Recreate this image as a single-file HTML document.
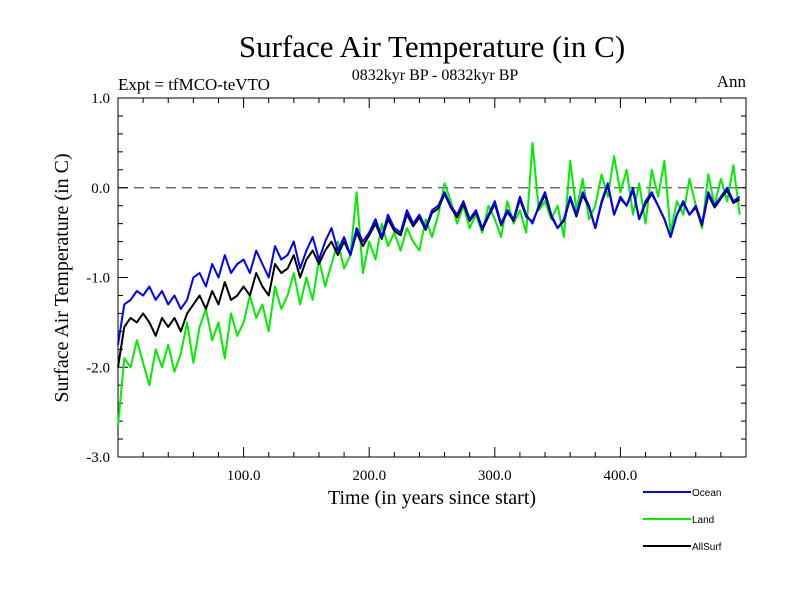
<!DOCTYPE html>
<html><head><meta charset="utf-8"><style>
html,body{margin:0;padding:0;background:#fff;}
svg{display:block;}
</style></head><body>
<svg id="chart" width="800" height="600" xmlns="http://www.w3.org/2000/svg" font-family="Liberation Serif, serif">
<rect width="800" height="600" fill="#fff"/>
<text x="432" y="57" font-size="31" text-anchor="middle">Surface Air Temperature (in C)</text>
<text x="435" y="80" font-size="16" text-anchor="middle">0832kyr BP - 0832kyr BP</text>
<text x="118" y="90" font-size="17">Expt = tfMCO-teVTO</text>
<text x="746" y="87" font-size="17" text-anchor="end">Ann</text>
<text transform="translate(68,278) rotate(-90)" font-size="20" text-anchor="middle">Surface Air Temperature (in C)</text>
<text x="432" y="504" font-size="20" text-anchor="middle">Time (in years since start)</text>
<g id="axes"></g>
<g id="series"></g>
<g id="legend" font-family="Liberation Sans, sans-serif" font-size="10"></g>
</svg>
<script>
const years = [];
for (let i = 0; i < 100; i++) years.push(i * 5);
const oceanValues = [-1.75,-1.3,-1.25,-1.15,-1.2,-1.1,-1.25,-1.15,-1.3,-1.2,-1.35,-1.25,-1.0,-0.95,-1.1,-0.85,-1.0,-0.75,-0.95,-0.85,
-0.8,-0.95,-0.7,-0.85,-1.0,-0.65,-0.8,-0.75,-0.6,-0.9,-0.7,-0.55,-0.8,-0.6,-0.45,-0.7,-0.55,-0.75,-0.45,-0.6,
-0.5,-0.35,-0.55,-0.3,-0.45,-0.5,-0.25,-0.4,-0.3,-0.45,-0.25,-0.2,-0.05,-0.2,-0.3,-0.15,-0.35,-0.25,-0.45,-0.3,
-0.15,-0.4,-0.25,-0.35,-0.1,-0.3,-0.4,-0.2,-0.05,-0.3,-0.45,-0.35,-0.1,-0.3,-0.05,-0.2,-0.45,-0.15,0.05,-0.3,
-0.1,-0.2,0.0,-0.35,-0.15,-0.05,-0.2,-0.35,-0.55,-0.3,-0.15,-0.3,-0.2,-0.4,-0.05,-0.2,-0.1,0.0,-0.15,-0.1];
const landValues = [-2.65,-1.9,-2.0,-1.7,-1.95,-2.2,-1.8,-2.0,-1.75,-2.05,-1.85,-1.5,-1.95,-1.55,-1.35,-1.7,-1.5,-1.9,-1.4,-1.65,
-1.5,-1.2,-1.45,-1.3,-1.6,-1.1,-1.35,-1.2,-0.95,-1.3,-1.0,-1.25,-0.8,-1.1,-0.85,-0.6,-0.9,-0.75,-0.05,-0.95,
-0.6,-0.8,-0.4,-0.65,-0.5,-0.7,-0.45,-0.6,-0.7,-0.35,-0.55,-0.3,0.05,-0.15,-0.4,-0.2,-0.45,-0.3,-0.5,-0.2,
-0.35,-0.55,-0.15,-0.4,-0.25,-0.5,0.5,-0.25,-0.15,-0.35,-0.2,-0.55,0.3,-0.25,0.1,-0.35,-0.2,0.15,-0.1,0.35,
-0.05,0.2,-0.3,0.05,-0.4,0.2,-0.1,0.3,-0.5,-0.15,-0.3,0.1,-0.2,-0.45,0.15,-0.2,0.1,-0.15,0.25,-0.3];
const allSurfValues = [-2.0,-1.55,-1.45,-1.5,-1.4,-1.5,-1.65,-1.45,-1.55,-1.45,-1.6,-1.4,-1.3,-1.2,-1.35,-1.15,-1.3,-1.05,-1.25,-1.2,
-1.1,-1.2,-0.95,-1.1,-1.2,-0.85,-0.95,-0.9,-0.75,-1.0,-0.8,-0.7,-0.85,-0.7,-0.6,-0.75,-0.6,-0.75,-0.5,-0.65,
-0.53,-0.4,-0.57,-0.35,-0.48,-0.53,-0.3,-0.43,-0.33,-0.47,-0.28,-0.23,-0.07,-0.22,-0.33,-0.18,-0.37,-0.27,-0.47,-0.32,
-0.18,-0.42,-0.27,-0.37,-0.13,-0.32,-0.38,-0.22,-0.08,-0.32,-0.45,-0.37,-0.12,-0.32,-0.08,-0.22,-0.45,-0.17,0.03,-0.3,
-0.12,-0.2,-0.03,-0.35,-0.18,-0.07,-0.2,-0.35,-0.55,-0.3,-0.17,-0.3,-0.22,-0.42,-0.08,-0.22,-0.12,-0.03,-0.17,-0.13];
const yTickValues = [1.0, 0.0, -1.0, -2.0, -3.0];
const yTickLabels = ["1.0", "0.0", "-1.0", "-2.0", "-3.0"];
const xTickValues = [100, 200, 300, 400];
const xTickLabels = ["100.0", "200.0", "300.0", "400.0"];
const seriesNames = ["Ocean", "Land", "AllSurf"];

const NS = "http://www.w3.org/2000/svg";
const X0 = 118, X1 = 746, Y0 = 98, Y1 = 457;
const xScale = v => X0 + (v - 0) / 500 * (X1 - X0);
const yScale = v => Y0 + (1 - v) / 4 * (Y1 - Y0);
function mk(tag, attrs, parent) {
  const e = document.createElementNS(NS, tag);
  for (const k in attrs) e.setAttribute(k, attrs[k]);
  parent.appendChild(e);
  return e;
}
const axes = document.getElementById('axes');
const frame = mk('rect', {x: X0, y: Y0, width: X1 - X0, height: Y1 - Y0, fill: 'none', stroke: '#000', 'stroke-width': 1}, axes);


const zero = mk('line', {x1: X0, x2: X1, y1: yScale(0), y2: yScale(0), stroke: '#555', 'stroke-width': 1.2, 'stroke-dasharray': '10,6'}, axes);


for (let v = -3; v <= 1.0001; v += 0.2) {
  const y = yScale(v);
  const major = Math.abs(v - Math.round(v)) < 0.01;
  const len = major ? 10 : 5;
  const t1 = mk('line', {x1: X0, x2: X0 + len, y1: y, y2: y, stroke: '#000'}, axes);
  
  
  const t2 = mk('line', {x1: X1, x2: X1 - len, y1: y, y2: y, stroke: '#000'}, axes);
  
  
}
for (let v = 20; v < 500; v += 20) {
  const x = xScale(v);
  const len = v % 100 === 0 ? 10 : 5;
  const t1 = mk('line', {x1: x, x2: x, y1: Y1, y2: Y1 - len, stroke: '#000'}, axes);
  
  
  const t2 = mk('line', {x1: x, x2: x, y1: Y0, y2: Y0 + len, stroke: '#000'}, axes);
  
  
}
yTickValues.forEach((v, i) => {
  const t = mk('text', {x: X0 - 8, y: yScale(v) + 5, 'font-size': 15, 'text-anchor': 'end'}, axes);
  t.textContent = yTickLabels[i];
  
  
});
xTickValues.forEach((v, i) => {
  const t = mk('text', {x: xScale(v), y: Y1 + 23, 'font-size': 15, 'text-anchor': 'middle'}, axes);
  t.textContent = xTickLabels[i];
  
  
});
const series = document.getElementById('series');
function drawLine(vals, color, name) {
  const d = vals.map((v, i) => (i ? 'L' : 'M') + xScale(years[i]).toFixed(1) + ',' + yScale(v).toFixed(1)).join('');
  const p = mk('path', {d: d, fill: 'none', stroke: color, 'stroke-width': 2, 'stroke-linejoin': 'round'}, series);
  
  
}
drawLine(landValues, '#00ee00', 'land-line');
drawLine(allSurfValues, '#000000', 'allsurf-line');
drawLine(oceanValues, '#0000ff', 'ocean-line');
const legend = document.getElementById('legend');
const legColors = ['#0000ff', '#00ee00', '#000000'];
seriesNames.forEach((n, i) => {
  const y = 492 + i * 27;
  const l = mk('line', {x1: 643, x2: 691, y1: y, y2: y, stroke: legColors[i], 'stroke-width': 2}, legend);
  
  
  const t = mk('text', {x: 692, y: y + 4}, legend);
  t.textContent = n;
  
  
});
</script>
</body></html>
